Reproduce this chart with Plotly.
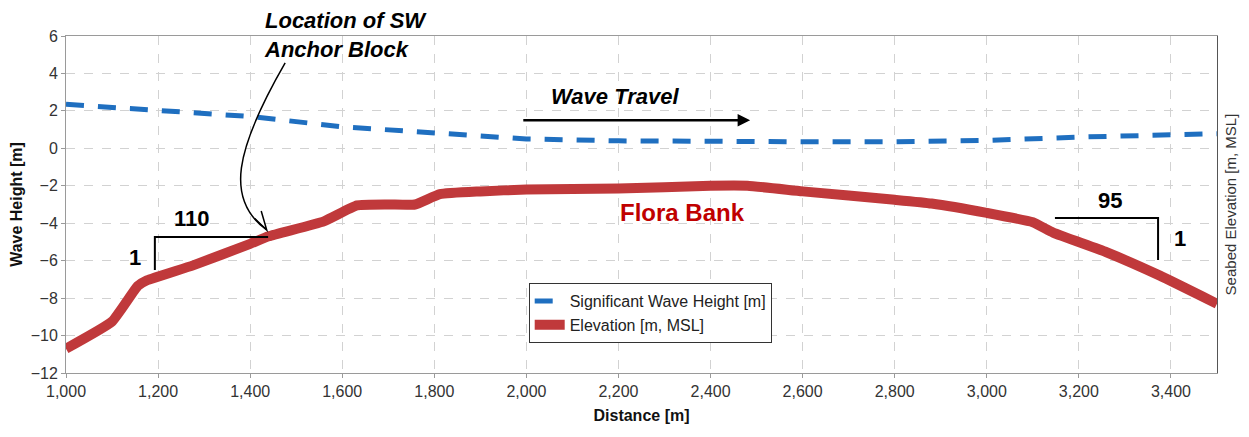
import plotly.graph_objects as go

# ---- data ----
wave_x = [1000, 1200, 1400, 1600, 1800, 2000, 2200, 2400, 2600, 2800, 3000, 3200, 3400, 3500]
wave_h = [2.35, 2.05, 1.7, 1.15, 0.8, 0.5, 0.4, 0.35, 0.35, 0.35, 0.42, 0.6, 0.7, 0.78]

elev_x = [1000, 1100, 1156, 1176, 1276, 1400, 1440, 1560, 1632, 1700, 1758, 1812, 1900, 2000,
          2200, 2400, 2480, 2600, 2800, 2880, 3000, 3100, 3144, 3260, 3376, 3500]
elev_y = [-10.7, -9.25, -7.35, -7.05, -6.25, -5.1, -4.7, -3.9, -3.05, -3.0, -3.0, -2.45, -2.3, -2.2,
          -2.15, -2.0, -2.0, -2.3, -2.75, -2.95, -3.45, -3.95, -4.5, -5.55, -6.8, -8.3]

x_ticks = list(range(1000, 3600, 200))
y_ticks = list(range(-12, 7, 2))

FONT = "Liberation Sans, Arial, sans-serif"

fig = go.Figure()
fig.add_trace(go.Scatter(x=wave_x, y=wave_h, mode="lines", name="Significant Wave Height [m]",
                         line=dict(color="#1f6fc0", width=5, dash="18px,14px")))
fig.add_trace(go.Scatter(x=elev_x, y=elev_y, mode="lines", name="Elevation [m, MSL]",
                         line=dict(color="#c0393b", width=10, shape="spline", smoothing=0.4),
                         yaxis="y2"))

grid = dict(showgrid=True, gridcolor="#d2d2d2", griddash="dash", gridwidth=1)

fig.update_layout(
    width=1249, height=437,
    margin=dict(l=66, r=32, t=36, b=64),
    paper_bgcolor="white", plot_bgcolor="white",
    font=dict(family=FONT, size=16, color="#333333"),
    xaxis=dict(range=[1000, 3500], tickvals=x_ticks, tickformat=",d",
               showline=True, linecolor="#9a9a9a", linewidth=1, mirror=True,
               ticks="outside", ticklen=4, tickcolor="#9a9a9a",
               title=dict(text="<b>Distance [m]</b>", font=dict(size=16, color="#111111"), standoff=10),
               zeroline=False, **grid),
    yaxis=dict(range=[-12, 6], tickvals=y_ticks,
               showline=True, linecolor="#9a9a9a", linewidth=1,
               ticks="outside", ticklen=4, tickcolor="#9a9a9a",
               title=dict(text="<b>Wave Height [m]</b>", font=dict(size=16, color="#111111"), standoff=4),
               zeroline=False, **grid),
    yaxis2=dict(range=[-12, 6], overlaying="y", side="right", showticklabels=False,
                showgrid=False, zeroline=False, showline=True, linecolor="#555555", linewidth=1,
                title=dict(text="Seabed Elevation [m, MSL]", font=dict(size=15, color="#333333"), standoff=8)),
    legend=dict(x=0.402, y=0.267, xanchor="left", yanchor="top",
                bordercolor="#333333", borderwidth=1, bgcolor="white",
                font=dict(size=16, color="#222222"), tracegroupgap=8),
    showlegend=True,
)

# ---- annotations ----
def txt(x, y, s, size=22, color="black", **kw):
    fig.add_annotation(x=x, y=y, text=s, showarrow=False,
                       font=dict(family=FONT, size=size, color=color), **kw)

txt(1426, 1.003, "<b><i>Location of SW<br>Anchor Block</i></b>", size=22,
    xanchor="left", yanchor="middle", align="left", yref="paper")
txt(2192, 2.75, "<b><i>Wave Travel</i></b>", size=22)
txt(2340, -3.45, "<b>Flora Bank</b>", size=24, color="#c00000")
txt(1274, -3.75, "<b>110</b>", size=22)
txt(1150, -5.85, "<b>1</b>", size=22)
txt(3268, -2.8, "<b>95</b>", size=22)
txt(3420, -4.8, "<b>1</b>", size=22)

# wave travel arrow
fig.add_annotation(x=2486, y=1.5, ax=1990, ay=1.5, xref="x", yref="y", axref="x", ayref="y",
                   text="", showarrow=True, arrowhead=2, arrowsize=1.0, arrowwidth=2.5, arrowcolor="black")

# slope brackets
fig.add_shape(type="path", path="M 1193,-6.5 L 1193,-4.74 L 1439,-4.74",
              line=dict(color="black", width=2))
fig.add_shape(type="path", path="M 3148,-3.72 L 3372,-3.72 L 3372,-5.97",
              line=dict(color="black", width=2))

# curved anchor-block arrow
fig.add_shape(type="path", path="M 1476,4.56 C 1367,-0.09 1345,-2.76 1436,-4.36",
              line=dict(color="black", width=1.5))
fig.add_shape(type="path", path="M 1410,-3.75 L 1436,-4.36 L 1424,-3.35",
              line=dict(color="black", width=1.5))

fig.write_html("out.html")
